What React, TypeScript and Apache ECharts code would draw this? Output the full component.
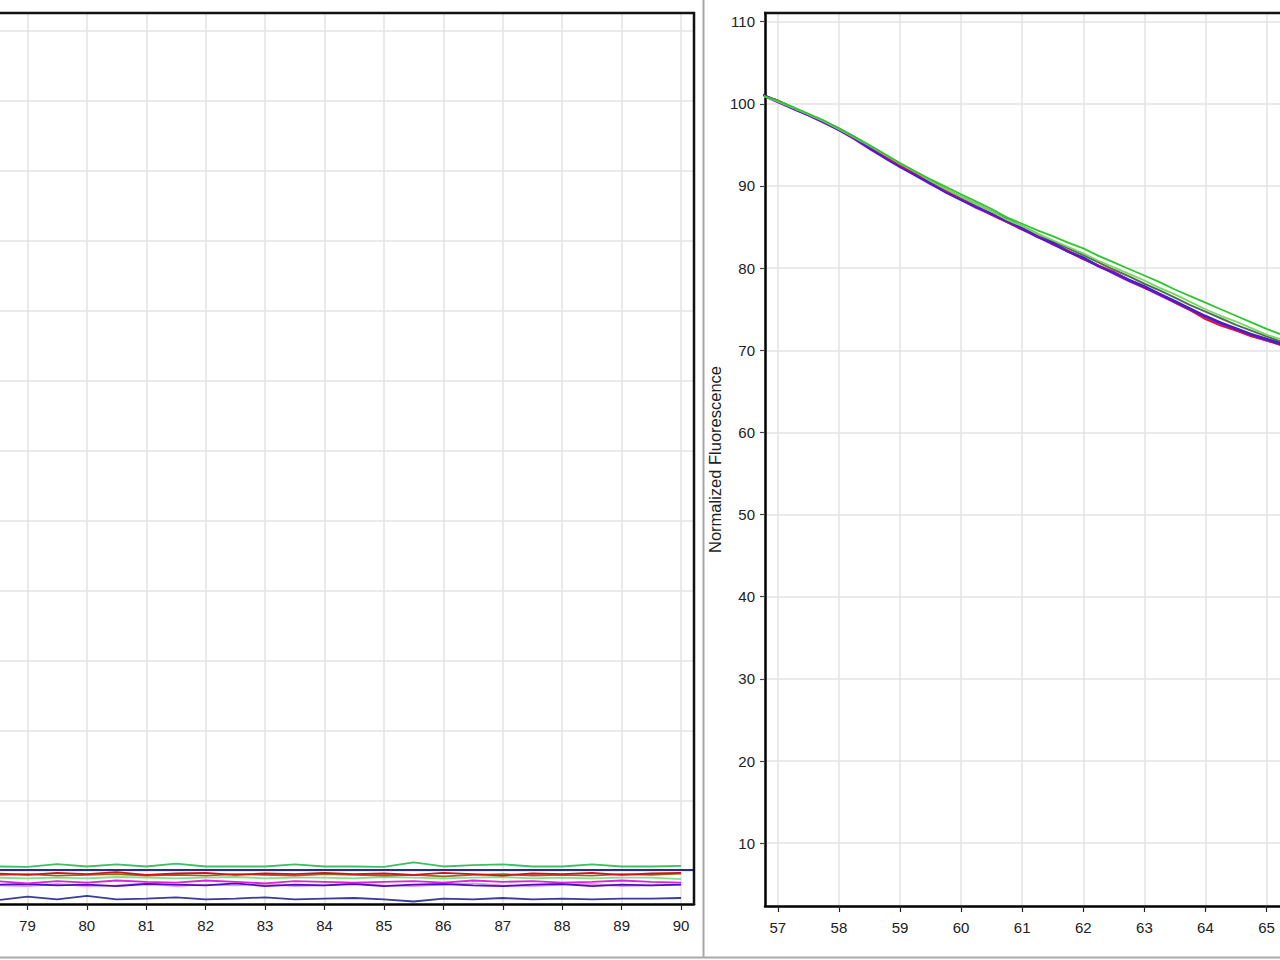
import React, { useEffect, useRef } from "react";
import * as echarts from "echarts";

// ---------- Left panel (melt region 78.5 - 90 °C) ----------
const leftX = [78.5, 79, 79.5, 80, 80.5, 81, 81.5, 82, 82.5, 83, 83.5, 84, 84.5, 85, 85.5, 86, 86.5, 87, 87.5, 88, 88.5, 89, 89.5, 90];
const leftThreshold = 10.1;
const leftGreen = [10.6, 10.55, 10.95, 10.6, 10.9, 10.6, 11.0, 10.6, 10.6, 10.6, 10.9, 10.6, 10.6, 10.55, 11.2, 10.6, 10.8, 10.9, 10.6, 10.6, 10.9, 10.6, 10.6, 10.7];
const leftRed = [9.6, 9.4, 9.7, 9.5, 9.8, 9.4, 9.6, 9.7, 9.4, 9.6, 9.5, 9.7, 9.5, 9.6, 9.4, 9.7, 9.5, 9.3, 9.6, 9.5, 9.7, 9.4, 9.6, 9.7];
const leftOlive = [9.4, 9.5, 9.3, 9.4, 9.5, 9.3, 9.4, 9.3, 9.5, 9.4, 9.3, 9.5, 9.4, 9.3, 9.4, 9.2, 9.4, 9.5, 9.3, 9.4, 9.3, 9.5, 9.4, 9.6];
const leftLightGreen = [9.0, 8.9, 9.0, 8.9, 9.1, 9.0, 8.9, 9.0, 9.1, 8.9, 9.0, 9.0, 8.9, 9.1, 9.0, 8.9, 9.0, 9.1, 8.9, 9.0, 8.9, 9.0, 9.0, 8.8];
const leftMagenta = [8.5, 8.2, 8.5, 8.3, 8.6, 8.4, 8.3, 8.6, 8.4, 8.2, 8.5, 8.4, 8.3, 8.4, 8.5, 8.3, 8.6, 8.4, 8.5, 8.3, 8.4, 8.6, 8.4, 8.3];
const leftPurple = [8.0, 8.1, 7.9, 8.0, 7.8, 8.1, 8.0, 7.9, 8.2, 7.8, 8.0, 7.9, 8.1, 7.8, 8.0, 8.1, 7.9, 7.8, 8.0, 8.1, 7.8, 8.0, 7.9, 8.0];
const leftPink = [7.9, 7.8, 8.1, 7.8, 7.9, 8.2, 7.8, 8.0, 7.9, 8.1, 7.8, 7.9, 8.2, 7.9, 7.8, 8.0, 8.2, 7.9, 7.8, 8.0, 8.1, 7.8, 7.9, 8.0];
const leftNavy = [5.8, 6.3, 5.9, 6.4, 5.9, 6.0, 6.2, 5.9, 6.0, 6.2, 5.9, 6.0, 6.1, 5.9, 5.6, 6.0, 5.9, 6.1, 5.9, 6.0, 5.9, 6.0, 6.0, 6.1];

// ---------- Right panel (Normalized Fluorescence 56.8 - 65 °C) ----------
const rightX = [56.75, 57, 57.25, 57.5, 57.75, 58, 58.25, 58.5, 58.75, 59, 59.25, 59.5, 59.75, 60, 60.25, 60.5, 60.75, 61, 61.25, 61.5, 61.75, 62, 62.25, 62.5, 62.75, 63, 63.25, 63.5, 63.75, 64, 64.25, 64.5, 64.75, 65, 65.25];
const rightPurple = [101.1, 100.3, 99.4, 98.6, 97.8, 96.8, 95.8, 94.6, 93.4, 92.3, 91.3, 90.3, 89.2, 88.3, 87.4, 86.6, 85.7, 84.8, 83.8, 83.0, 82.0, 81.2, 80.2, 79.4, 78.5, 77.7, 76.8, 75.9, 75.0, 74.1, 73.3, 72.6, 71.9, 71.3, 70.7];
const rightRed = [101.0, 100.4, 99.5, 98.7, 97.9, 96.9, 95.9, 94.8, 93.6, 92.5, 91.5, 90.4, 89.4, 88.4, 87.5, 86.5, 85.6, 84.7, 83.9, 82.9, 82.1, 81.1, 80.3, 79.5, 78.5, 77.6, 76.8, 75.8, 74.9, 73.8, 73.0, 72.4, 71.7, 71.2, 70.6];
const rightMagenta = [101.0, 100.2, 99.4, 98.6, 97.7, 96.8, 95.7, 94.5, 93.5, 92.4, 91.3, 90.2, 89.3, 88.3, 87.3, 86.5, 85.6, 84.7, 83.8, 82.9, 82.0, 81.1, 80.3, 79.3, 78.4, 77.6, 76.7, 75.8, 74.9, 74.0, 73.2, 72.5, 71.8, 71.2, 70.6];
const rightNavy = [101.1, 100.4, 99.5, 98.7, 97.8, 96.9, 95.8, 94.7, 93.5, 92.4, 91.4, 90.4, 89.3, 88.4, 87.5, 86.6, 85.7, 84.9, 83.9, 83.1, 82.1, 81.3, 80.3, 79.5, 78.6, 77.8, 76.9, 76.0, 75.1, 74.2, 73.4, 72.7, 72.0, 71.4, 70.8];
const rightOlive = [101.0, 100.3, 99.5, 98.7, 97.9, 97.0, 96.0, 94.9, 93.8, 92.7, 91.7, 90.7, 89.6, 88.7, 87.8, 86.9, 86.0, 85.1, 84.2, 83.3, 82.4, 81.6, 80.7, 79.8, 79.0, 78.1, 77.3, 76.4, 75.5, 74.7, 73.9, 73.1, 72.4, 71.7, 71.0];
const rightGreenLight = [101.0, 100.3, 99.5, 98.7, 97.9, 96.9, 95.9, 94.9, 93.8, 92.7, 91.7, 90.6, 89.6, 88.7, 87.8, 86.9, 85.9, 85.1, 84.2, 83.4, 82.6, 81.8, 80.9, 80.1, 79.3, 78.5, 77.6, 76.8, 75.9, 75.0, 74.2, 73.5, 72.7, 71.9, 71.3];
const rightGreen = [101.0, 100.4, 99.6, 98.8, 98.0, 97.0, 96.0, 95.0, 93.9, 92.8, 91.8, 90.8, 89.9, 89.0, 88.1, 87.2, 86.2, 85.4, 84.6, 83.9, 83.1, 82.4, 81.5, 80.7, 79.9, 79.1, 78.3, 77.4, 76.6, 75.8, 75.0, 74.2, 73.4, 72.6, 71.9];

const yAxisName = "Normalized Fluorescence";
const FONT = "'Liberation Sans', Arial, sans-serif";

const pairs = (xs: number[], ys: number[]) => xs.map((x, i) => [x, ys[i]]);

export default function App() {
  const ref = useRef<HTMLDivElement>(null);

  useEffect(() => {
    if (!ref.current) return;
    const chart = echarts.init(ref.current, null, { renderer: "svg" });

    const gridLine = { show: true, showMinLine: false, showMaxLine: false, lineStyle: { color: "#e3e3e3", width: 1.5 } };
    const label = { color: "#222", fontSize: 15, fontFamily: FONT };

    const line = (name: string, xIdx: number, xs: number[], ys: number[], color: string, width = 1.8) => ({
      name,
      type: "line",
      xAxisIndex: xIdx,
      yAxisIndex: xIdx,
      data: pairs(xs, ys),
      showSymbol: false,
      symbol: "none",
      clip: true,
      lineStyle: { color, width },
      itemStyle: { color },
      z: 3,
    });

    const option: any = {
      animation: false,
      backgroundColor: "#ffffff",
      textStyle: { fontFamily: FONT },
      grid: [
        { left: -2, top: 13, width: 696, height: 891, show: false },
        { left: 765, top: 13, width: 525, height: 893, show: false },
      ],
      xAxis: [
        {
          type: "value",
          gridIndex: 0,
          min: 78.538,
          max: 90.218,
          splitNumber: 12,
          axisLine: { show: true, onZero: false, lineStyle: { color: "#000", width: 2.5 } },
          axisTick: { show: true, length: 6, lineStyle: { color: "#222", width: 1.2 } },
          axisLabel: { ...label, margin: 14, showMinLabel: false, showMaxLabel: false },
          splitLine: gridLine,
        },
        {
          type: "value",
          gridIndex: 1,
          min: 56.79,
          max: 65.22,
          splitNumber: 9,
          axisLine: { show: true, onZero: false, lineStyle: { color: "#000", width: 2.5 } },
          axisTick: { show: true, length: 6, lineStyle: { color: "#222", width: 1.2 } },
          axisLabel: { ...label, margin: 14, showMinLabel: false, showMaxLabel: false },
          splitLine: gridLine,
        },
      ],
      yAxis: [
        {
          type: "value",
          gridIndex: 0,
          min: 5.24,
          max: 132.53,
          splitNumber: 13,
          axisLine: { show: false },
          axisTick: { show: false },
          axisLabel: { show: false },
          splitLine: gridLine,
        },
        {
          type: "value",
          gridIndex: 1,
          min: 2.35,
          max: 111.06,
          splitNumber: 11,
          name: yAxisName,
          nameLocation: "middle",
          nameGap: 42,
          nameRotate: 90,
          nameTextStyle: { color: "#222", fontSize: 16.5, fontFamily: FONT },
          axisLine: { show: true, onZero: false, lineStyle: { color: "#000", width: 2.5 } },
          axisTick: { show: true, length: 5, lineStyle: { color: "#444", width: 1.2 } },
          axisLabel: { ...label, margin: 10, showMinLabel: false, showMaxLabel: false },
          splitLine: gridLine,
        },
      ],
      series: [
        {
          ...line("Navy", 0, leftX, leftNavy, "#3b3b9a"),
          markLine: {
            silent: true,
            symbol: "none",
            label: { show: false },
            lineStyle: { color: "#2a2f86", width: 1.8, type: "solid" },
            data: [{ yAxis: leftThreshold }],
          },
        },
        line("Pink", 0, leftX, leftPink, "#e39ae3"),
        line("Purple", 0, leftX, leftPurple, "#4a10c0"),
        line("Magenta", 0, leftX, leftMagenta, "#dd22dd"),
        line("Light green", 0, leftX, leftLightGreen, "#86df86"),
        line("Olive", 0, leftX, leftOlive, "#8a6f1a"),
        line("Red", 0, leftX, leftRed, "#d01515"),
        line("Green", 0, leftX, leftGreen, "#3cc060"),

        line("Olive", 1, rightX, rightOlive, "#556b55", 2),
        line("Navy", 1, rightX, rightNavy, "#2d2d8f", 2),
        line("Magenta", 1, rightX, rightMagenta, "#c530c5", 2),
        line("Red", 1, rightX, rightRed, "#e0103c", 2),
        line("Purple", 1, rightX, rightPurple, "#5418d4", 2.2),
        line("Light green", 1, rightX, rightGreenLight, "#70dc5a", 1.8),
        line("Green", 1, rightX, rightGreen, "#2ec62e", 1.8),
      ],
      graphic: [
        // chart frames (top / right borders)
        { type: "line", silent: true, z: 100, shape: { x1: 0, y1: 13, x2: 695, y2: 13 }, style: { stroke: "#111", lineWidth: 2.5 } },
        { type: "line", silent: true, z: 100, shape: { x1: 694, y1: 12, x2: 694, y2: 905 }, style: { stroke: "#111", lineWidth: 2.5 } },
        { type: "line", silent: true, z: 100, shape: { x1: 764, y1: 13, x2: 1280, y2: 13 }, style: { stroke: "#111", lineWidth: 2.5 } },
        // panel separators
        { type: "line", silent: true, shape: { x1: 703.5, y1: 0, x2: 703.5, y2: 958 }, style: { stroke: "#a8a8a8", lineWidth: 2 } },
        { type: "line", silent: true, shape: { x1: 0, y1: 957.5, x2: 1280, y2: 957.5 }, style: { stroke: "#a8a8a8", lineWidth: 2 } },
      ],
    };

    chart.setOption(option);
    return () => chart.dispose();
  }, []);

  return <div ref={ref} style={{ position: "fixed", left: 0, top: 0, width: 1280, height: 960, background: "#fff" }} />;
}
